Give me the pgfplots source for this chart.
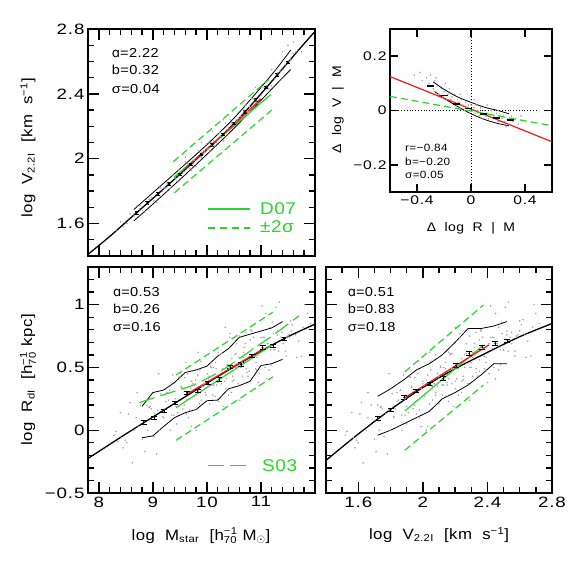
\documentclass[border=0pt]{standalone}
\usepackage{pgfplots}
\pgfplotsset{compat=1.18}
\usepackage{pgfplotstable}
\usepackage{fontspec}
\setmainfont{Liberation Sans}[FakeStretch=1.12, LetterSpace=3]
\newfontfamily\tickfont{Liberation Sans}[FakeStretch=1.25, LetterSpace=6]
\newfontfamily\dejavu{DejaVu Sans}
\definecolor{ggreen}{RGB}{40,215,40}
\definecolor{rred}{RGB}{240,25,25}
\definecolor{dotgray}{RGB}{165,165,165}
\newcommand\tx[1]{\mbox{\fontsize{10}{10}\selectfont #1}}

\pgfplotstableread{
x v y
8.32 1.53 -0.01
8.45 1.58 -0.14
8.58 1.62 0.22
8.66 1.65 0.00
8.77 1.68 0.20
8.85 1.71 -0.17
8.93 1.74 0.18
9.02 1.76 -0.05
9.11 1.79 0.45
9.18 1.82 0.11
9.26 1.84 0.30
9.33 1.87 0.00
9.41 1.89 0.25
9.48 1.92 0.42
9.55 1.94 0.17
9.61 1.96 0.54
9.68 1.98 0.16
9.74 2.00 0.37
9.80 2.02 0.00
9.87 2.05 0.48
9.93 2.06 0.35
9.99 2.08 0.60
10.05 2.10 0.21
10.12 2.13 0.50
10.18 2.15 0.36
10.24 2.17 0.60
10.31 2.19 0.19
10.37 2.21 0.52
10.43 2.23 0.77
10.50 2.25 0.40
10.56 2.27 0.53
10.63 2.30 0.50
10.69 2.32 0.66
10.76 2.34 0.43
10.83 2.36 0.79
10.91 2.39 0.54
11.02 2.42 0.99
11.15 2.47 0.48
11.31 2.52 0.79
11.52 2.59 0.76
8.40 1.56 0.14
8.52 1.60 -0.10
8.71 1.66 0.30
8.81 1.70 -0.07
8.97 1.75 0.17
9.07 1.78 -0.19
9.15 1.81 0.29
9.22 1.83 0.17
9.37 1.88 0.44
9.44 1.90 0.05
9.52 1.93 0.35
9.58 1.95 0.20
9.64 1.97 0.45
9.71 1.99 0.03
9.77 2.01 0.36
9.84 2.04 0.62
9.90 2.06 0.24
9.96 2.07 0.37
10.02 2.09 0.35
10.08 2.11 0.50
10.15 2.14 0.27
10.21 2.16 0.62
10.27 2.18 0.37
10.34 2.20 0.82
10.40 2.22 0.28
10.46 2.24 0.57
10.53 2.26 0.50
10.59 2.28 0.58
10.66 2.31 0.43
10.72 2.33 0.78
10.79 2.35 0.56
10.86 2.37 0.74
10.95 2.40 0.38
11.06 2.44 0.74
11.19 2.48 0.52
11.28 2.51 0.98
11.41 2.55 0.69
11.60 2.62 0.88
11.75 2.67 0.59
11.92 2.72 0.85
8.36 1.55 -0.09
8.62 1.63 -0.26
8.89 1.72 0.20
9.04 1.77 0.13
9.29 1.85 0.24
9.46 1.91 0.14
9.59 1.95 0.42
9.66 1.98 0.10
9.72 2.00 0.39
9.82 2.03 0.03
9.89 2.05 0.55
9.97 2.08 0.30
10.03 2.10 0.41
10.10 2.12 0.36
10.16 2.14 0.54
10.22 2.16 0.23
10.29 2.18 0.49
10.35 2.20 0.33
10.42 2.23 0.74
10.48 2.25 0.43
10.55 2.27 0.69
10.61 2.29 0.24
10.68 2.31 0.62
10.74 2.33 0.46
10.81 2.36 0.80
10.88 2.38 0.59
10.97 2.41 0.45
11.04 2.43 0.74
11.11 2.45 0.41
11.17 2.47 0.82
11.24 2.50 0.64
11.34 2.53 1.02
11.45 2.57 0.63
11.56 2.60 0.79
11.66 2.64 0.58
11.81 2.69 1.00
9.35 1.87 0.12
10.01 2.09 0.45
10.58 2.28 0.37
11.09 2.45 0.93
8.28 1.52 -0.04
8.49 1.59 -0.08
8.55 1.61 0.13
8.74 1.67 0.03
8.95 1.74 0.19
9.13 1.80 0.00
9.24 1.84 0.23
9.39 1.89 0.12
9.50 1.92 0.43
9.63 1.97 0.24
9.79 2.02 0.40
9.86 2.04 0.21
9.94 2.07 0.37
10.07 2.11 0.51
10.13 2.13 0.36
10.26 2.17 0.61
10.33 2.20 0.39
10.39 2.22 0.52
10.45 2.24 0.30
10.52 2.26 0.60
10.65 2.30 0.54
10.71 2.32 0.69
10.78 2.35 0.47
10.85 2.37 0.65
10.93 2.39 0.58
11.00 2.42 0.74
11.08 2.44 0.50
11.13 2.46 0.69
11.21 2.49 0.86
11.26 2.50 0.64
11.37 2.54 0.74
11.48 2.58 0.74
11.58 2.61 0.84
11.70 2.65 0.71
11.86 2.70 0.93
10.20 2.15 0.38
10.60 2.29 0.75
10.90 2.38 0.49
11.30 2.52 0.76
11.50 2.58 0.75
8.42 1.57 -0.06
8.69 1.66 0.10
8.91 1.73 0.00
9.09 1.79 0.16
9.20 1.82 0.10
9.31 1.86 0.32
9.43 1.90 0.19
9.53 1.93 0.34
9.62 1.96 0.13
9.70 1.99 0.33
9.76 2.01 0.27
9.83 2.03 0.44
9.91 2.06 0.35
9.98 2.08 0.28
10.04 2.10 0.43
10.11 2.12 0.28
10.17 2.14 0.49
10.23 2.16 0.41
10.28 2.18 0.61
10.36 2.21 0.41
10.41 2.22 0.49
10.47 2.24 0.39
10.54 2.27 0.61
10.62 2.29 0.50
10.67 2.31 0.58
10.73 2.33 0.49
10.80 2.35 0.72
10.87 2.38 0.59
10.92 2.39 0.48
10.99 2.41 0.69
11.05 2.43 0.65
11.12 2.46 0.69
11.18 2.48 0.64
11.23 2.49 0.77
11.33 2.53 0.63
11.39 2.55 0.78
11.47 2.57 0.59
11.55 2.60 0.87
11.64 2.63 0.76
11.78 2.68 0.82
}\cloudB

\pgfplotstableread{
x y
8.32 1.56
8.45 1.58
8.58 1.66
8.66 1.65
8.77 1.71
8.85 1.67
8.93 1.75
9.02 1.74
9.11 1.83
9.18 1.80
9.26 1.85
9.33 1.82
9.41 1.88
9.48 1.93
9.55 1.91
9.61 1.98
9.68 1.94
9.74 1.99
9.80 1.95
9.87 2.04
9.93 2.03
9.99 2.09
10.05 2.05
10.12 2.11
10.18 2.10
10.24 2.16
10.31 2.11
10.37 2.18
10.43 2.24
10.50 2.20
10.56 2.24
10.63 2.26
10.69 2.30
10.76 2.29
10.83 2.37
10.91 2.35
11.02 2.46
11.15 2.43
11.31 2.53
11.52 2.60
8.40 1.61
8.52 1.60
8.71 1.71
8.81 1.68
8.97 1.76
9.07 1.73
9.15 1.82
9.22 1.82
9.37 1.90
9.44 1.86
9.52 1.92
9.58 1.92
9.64 1.97
9.71 1.93
9.77 1.99
9.84 2.05
9.90 2.01
9.96 2.04
10.02 2.06
10.08 2.10
10.15 2.08
10.21 2.15
10.27 2.13
10.34 2.22
10.40 2.15
10.46 2.22
10.53 2.22
10.59 2.25
10.66 2.25
10.72 2.33
10.79 2.32
10.86 2.37
10.95 2.34
11.06 2.44
11.19 2.45
11.28 2.55
11.41 2.55
11.60 2.65
11.75 2.66
11.68 2.67
9.90 2.10
10.30 2.24
10.70 2.36
10.90 2.44
11.40 2.66
11.50 2.70
11.60 2.72
10.10 2.17
9.60 2.01
11.20 2.55
8.55 1.63
8.90 1.72
9.20 1.82
9.50 1.90
9.75 1.97
9.95 2.05
10.10 2.08
10.25 2.14
10.40 2.19
10.55 2.23
10.70 2.29
10.85 2.35
11.00 2.39
11.10 2.45
11.25 2.49
11.35 2.54
11.45 2.58
11.55 2.61
11.65 2.66
8.75 1.69
}\cloudTL

\pgfplotstableread{
x y
-0.42 0.13
-0.38 0.14
-0.36 0.11
-0.33 0.12
-0.31 0.10
-0.30 0.13
-0.28 0.08
-0.27 0.11
-0.25 0.09
-0.24 0.06
-0.22 0.08
-0.21 0.05
-0.20 0.07
-0.18 0.04
-0.17 0.06
-0.16 0.08
-0.15 0.04
-0.14 0.05
-0.13 0.03
-0.12 0.06
-0.11 0.02
-0.10 0.04
-0.09 0.03
-0.08 0.01
-0.07 0.04
-0.06 0.02
-0.05 0.00
-0.04 0.03
-0.03 0.01
-0.02 0.02
-0.01 -0.01
0.00 0.02
0.01 0.00
0.02 0.01
0.03 -0.01
0.04 0.02
0.05 0.00
0.06 -0.02
0.07 0.01
0.08 -0.01
0.09 -0.03
0.10 0.00
0.11 -0.02
0.12 -0.01
0.13 -0.03
0.14 -0.02
0.15 0.00
0.16 -0.04
0.17 -0.02
0.18 -0.03
0.19 -0.01
0.20 -0.04
0.21 -0.02
0.22 -0.05
0.23 -0.03
0.24 -0.02
0.25 -0.04
0.26 -0.06
0.27 -0.03
0.28 -0.05
0.30 -0.02
0.31 -0.04
0.33 -0.03
0.35 -0.05
0.37 -0.02
-0.19 0.10
-0.26 0.12
0.02 0.04
0.12 0.02
-0.08 0.06
0.20 0.00
}\cloudTR

\pgfplotsset{
  panel/.style={
    scale only axis, anchor=south west,
    axis line style={line width=1.5pt},
    tick align=inside,
    major tick length=0pt, minor tick length=0pt,
    ticklabel style={font=\tickfont\fontsize{15}{18}\selectfont},
  },
  cloud/.style={only marks, mark=*, mark size=0.55pt, dotgray, mark options={draw=none, fill=dotgray}},
  % frame tick marks drawn as one-sided error bars from the frame inward
  tickbar/.style={black, only marks, mark=*, mark size=0pt, forget plot,
    error bars/error mark=none,
    error bars/error bar style={black, line width=1.4pt}},
}

\begin{document}
\begin{tikzpicture}[x=1pt, y=1pt]
\useasboundingbox (0,0) rectangle (581,581);

% ---------------- top left ----------------
\begin{axis}[panel, at={(88pt,325pt)}, width=227pt, height=227pt,
  xmin=7.8, xmax=12, ymin=1.4, ymax=2.8,
  xtick={8,9,10,11}, xticklabels={},
  ytick={1.6,2,2.4,2.8}, yticklabels={1.6,2,2.4,2.8}]
\addplot[cloud] table[x=x,y=y] {\cloudTL};
\addplot[black, line width=1.3pt, smooth] coordinates {(7.8,1.41)(8.2,1.52)(8.6,1.638)(9.0,1.755)(9.4,1.874)(9.8,1.995)(10.2,2.118)(10.6,2.25)(11.0,2.40)(11.4,2.555)(11.8,2.71)(12.0,2.785)};
\addplot[black, line width=0.8pt, smooth] coordinates {(8.65,1.687)(9.0,1.79)(9.5,1.937)(10.0,2.087)(10.5,2.25)(11.0,2.44)(11.3,2.56)(11.55,2.67)};
\addplot[black, line width=0.8pt, smooth] coordinates {(8.65,1.617)(9.0,1.72)(9.5,1.871)(10.0,2.027)(10.5,2.187)(11.0,2.36)(11.3,2.465)(11.55,2.55)};
\addplot[ggreen, line width=1.2pt, dash pattern=on 7pt off 4pt] coordinates {(9.38,1.982)(11.15,2.49)};
\addplot[ggreen, line width=1.2pt, dash pattern=on 7pt off 4pt] coordinates {(9.40,1.79)(11.2,2.30)};
\addplot[ggreen, line width=1.2pt] coordinates {(9.39,1.886)(11.18,2.395)};
\addplot[rred, line width=1.3pt, smooth] coordinates {(9.6,1.94)(10.0,2.06)(10.5,2.21)(11.0,2.37)};
\addplot[black, only marks, mark=*, mark size=1.1pt, error bars/.cd, y dir=both, y fixed=0.008,
  error bar style={line width=0.7pt}, error mark options={rotate=90, mark size=2pt, line width=0.7pt}]
  coordinates {(8.7,1.667)(8.9,1.726)(9.1,1.785)(9.3,1.844)(9.5,1.904)(9.7,1.965)(9.9,2.026)(10.1,2.087)(10.3,2.151)(10.5,2.217)(10.7,2.288)(10.9,2.363)(11.1,2.439)(11.3,2.516)(11.5,2.594)};
% ticks
\addplot[tickbar, error bars/y dir=plus, error bars/y fixed=0.0678] coordinates {(8,1.4)(9,1.4)(10,1.4)(11,1.4)};
\addplot[tickbar, error bars/y dir=minus, error bars/y fixed=0.0678] coordinates {(8,2.8)(9,2.8)(10,2.8)(11,2.8)};
\addplot[tickbar, error bars/y dir=plus, error bars/y fixed=0.037] coordinates {(8.2,1.4)(8.4,1.4)(8.6,1.4)(8.8,1.4)(9.2,1.4)(9.4,1.4)(9.6,1.4)(9.8,1.4)(10.2,1.4)(10.4,1.4)(10.6,1.4)(10.8,1.4)(11.2,1.4)(11.4,1.4)(11.6,1.4)(11.8,1.4)};
\addplot[tickbar, error bars/y dir=minus, error bars/y fixed=0.037] coordinates {(8.2,2.8)(8.4,2.8)(8.6,2.8)(8.8,2.8)(9.2,2.8)(9.4,2.8)(9.6,2.8)(9.8,2.8)(10.2,2.8)(10.4,2.8)(10.6,2.8)(10.8,2.8)(11.2,2.8)(11.4,2.8)(11.6,2.8)(11.8,2.8)};
\addplot[tickbar, error bars/x dir=plus, error bars/x fixed=0.2035] coordinates {(7.8,1.6)(7.8,2.0)(7.8,2.4)};
\addplot[tickbar, error bars/x dir=minus, error bars/x fixed=0.2035] coordinates {(12,1.6)(12,2.0)(12,2.4)};
\addplot[tickbar, error bars/x dir=plus, error bars/x fixed=0.111] coordinates {(7.8,1.5)(7.8,1.7)(7.8,1.8)(7.8,1.9)(7.8,2.1)(7.8,2.2)(7.8,2.3)(7.8,2.5)(7.8,2.6)(7.8,2.7)};
\addplot[tickbar, error bars/x dir=minus, error bars/x fixed=0.111] coordinates {(12,1.5)(12,1.7)(12,1.8)(12,1.9)(12,2.1)(12,2.2)(12,2.3)(12,2.5)(12,2.6)(12,2.7)};
\node[anchor=west, inner sep=0, font=\fontsize{13}{15}\selectfont] at (axis cs:8.24,2.652) {{\dejavu ɑ}=2.22};
\node[anchor=west, inner sep=0, font=\fontsize{13}{15}\selectfont] at (axis cs:8.24,2.547) {b=0.32};
\node[anchor=west, inner sep=0, font=\fontsize{13}{15}\selectfont] at (axis cs:8.24,2.43) {σ=0.04};
\draw[ggreen, line width=1.2pt] (axis cs:10.02,1.69) -- (axis cs:10.80,1.69);
\draw[ggreen, line width=1.2pt, dash pattern=on 7pt off 5pt] (axis cs:10.02,1.573) -- (axis cs:10.80,1.573);
\node[anchor=west, inner sep=0, text=ggreen, font=\fontsize{17}{20}\selectfont] at (axis cs:10.98,1.69) {D07};
\node[anchor=west, inner sep=0, text=ggreen, font=\fontsize{17}{20}\selectfont] at (axis cs:10.98,1.58) {±2σ};
\end{axis}

% ---------------- top right ----------------
\begin{axis}[panel, at={(390pt,389pt)}, width=162pt, height=163pt,
  xmin=-0.6, xmax=0.6, ymin=-0.3, ymax=0.3,
  ticklabel style={font=\tickfont\fontsize{12.5}{15}\selectfont},
  xtick={-0.4,0,0.4}, xticklabels={−0.4,0,0.4},
  ytick={-0.2,0,0.2}, yticklabels={−0.2,0,0.2}]
\addplot[black, dotted, line width=0.8pt] coordinates {(0,-0.3)(0,0.3)};
\addplot[black, dotted, line width=0.8pt] coordinates {(-0.6,0)(0.48,0)};
\addplot[cloud] table[x=x,y=y] {\cloudTR};
\addplot[black, line width=0.8pt, smooth] coordinates {(-0.28,0.105)(-0.2,0.078)(-0.1,0.05)(0,0.03)(0.1,0.012)(0.2,0.0)(0.28,-0.012)};
\addplot[black, line width=0.8pt, smooth] coordinates {(-0.27,0.07)(-0.2,0.045)(-0.1,0.015)(0,-0.012)(0.1,-0.033)(0.2,-0.048)(0.28,-0.056)};
\addplot[only marks, mark=-, mark size=3.5pt, mark options={line width=1.8pt, black}] coordinates {(-0.30,0.09)(-0.20,0.055)(-0.11,0.025)(-0.02,0.007)(0.09,-0.012)(0.19,-0.027)(0.29,-0.036)};
\addplot[rred, line width=1.2pt] coordinates {(-0.6,0.125)(0.6,-0.115)};
\addplot[ggreen, line width=1.2pt, dash pattern=on 7pt off 4pt] coordinates {(-0.6,0.052)(0.6,-0.056)};
% ticks
\addplot[tickbar, error bars/y dir=plus, error bars/y fixed=0.0294] coordinates {(-0.4,-0.3)(0,-0.3)(0.4,-0.3)};
\addplot[tickbar, error bars/y dir=minus, error bars/y fixed=0.0294] coordinates {(-0.4,0.3)(0,0.3)(0.4,0.3)};
\addplot[tickbar, error bars/x dir=plus, error bars/x fixed=0.0593] coordinates {(-0.6,-0.2)(-0.6,0)(-0.6,0.2)};
\addplot[tickbar, error bars/x dir=minus, error bars/x fixed=0.0593] coordinates {(0.6,-0.2)(0.6,0)(0.6,0.2)};
\node[anchor=west, inner sep=0, font=\fontsize{10.5}{12}\selectfont] at (axis cs:-0.489,-0.137) {r=−0.84};
\node[anchor=west, inner sep=0, font=\fontsize{10.5}{12}\selectfont] at (axis cs:-0.489,-0.189) {b=−0.20};
\node[anchor=west, inner sep=0, font=\fontsize{10.5}{12}\selectfont] at (axis cs:-0.489,-0.237) {σ=0.05};
\end{axis}

% ---------------- bottom left ----------------
\begin{axis}[panel, at={(88pt,88pt)}, width=227pt, height=226pt,
  xmin=7.8, xmax=12, ymin=-0.5, ymax=1.3,
  xtick={8,9,10,11}, xticklabels={8,9,10,11},
  ytick={-0.5,0,0.5,1}, yticklabels={−0.5,0,0.5,1}]
\addplot[cloud] table[x=x,y=y] {\cloudB};
\addplot[black, line width=1.3pt, smooth] coordinates {(7.8,-0.225)(8.5,-0.03)(9,0.105)(9.5,0.24)(10,0.375)(10.5,0.505)(11,0.63)(11.5,0.745)(12,0.845)};
\addplot[black, line width=0.8pt] coordinates {(8.8,0.19)(9.0,0.30)(9.2,0.32)(9.4,0.38)(9.6,0.46)(9.8,0.48)(10.0,0.51)(10.2,0.59)(10.4,0.65)(10.6,0.74)(10.8,0.765)(11.0,0.79)(11.2,0.815)(11.4,0.865)};
\addplot[black, line width=0.8pt] coordinates {(8.8,-0.06)(9.0,-0.045)(9.2,0.03)(9.4,0.10)(9.6,0.14)(9.8,0.165)(10.0,0.235)(10.2,0.24)(10.4,0.33)(10.6,0.355)(10.8,0.39)(11.0,0.515)(11.2,0.53)(11.4,0.565)};
\addplot[ggreen, line width=1.2pt, dash pattern=on 7pt off 4pt] coordinates {(9.43,0.44)(11.22,0.94)};
\addplot[ggreen, line width=1.2pt, dash pattern=on 7pt off 4pt] coordinates {(9.43,-0.08)(11.22,0.425)};
\addplot[ggreen, line width=1.2pt] coordinates {(9.43,0.18)(11.22,0.683)};
\addplot[ggreen, line width=1.2pt, dash pattern=on 16pt off 6pt, smooth] coordinates {(8.75,0.22)(9.25,0.29)(9.75,0.36)(10.25,0.47)(10.75,0.615)(11.25,0.765)(11.7,0.91)};
\addplot[rred, line width=1.3pt] coordinates {(9.6,0.28)(11.05,0.65)};
\addplot[black, only marks, mark=*, mark size=0.6pt, error bars/.cd, y dir=both, y explicit,
  error bar style={line width=0.8pt}, error mark options={rotate=90, mark size=3pt, line width=0.8pt}]
  table[x=x, y=y, y error=e] {
x y e
8.83 0.061 0.015
9.03 0.100 0.012
9.21 0.154 0.012
9.41 0.220 0.012
9.63 0.298 0.015
9.83 0.313 0.015
10.02 0.377 0.012
10.23 0.407 0.015
10.43 0.505 0.015
10.63 0.526 0.015
10.83 0.593 0.012
11.03 0.660 0.015
11.23 0.673 0.012
11.43 0.731 0.012
};
% ticks
\addplot[tickbar, error bars/y dir=plus, error bars/y fixed=0.0876] coordinates {(8,-0.5)(9,-0.5)(10,-0.5)(11,-0.5)};
\addplot[tickbar, error bars/y dir=minus, error bars/y fixed=0.0876] coordinates {(8,1.3)(9,1.3)(10,1.3)(11,1.3)};
\addplot[tickbar, error bars/y dir=plus, error bars/y fixed=0.0478] coordinates {(8.2,-0.5)(8.4,-0.5)(8.6,-0.5)(8.8,-0.5)(9.2,-0.5)(9.4,-0.5)(9.6,-0.5)(9.8,-0.5)(10.2,-0.5)(10.4,-0.5)(10.6,-0.5)(10.8,-0.5)(11.2,-0.5)(11.4,-0.5)(11.6,-0.5)(11.8,-0.5)};
\addplot[tickbar, error bars/y dir=minus, error bars/y fixed=0.0478] coordinates {(8.2,1.3)(8.4,1.3)(8.6,1.3)(8.8,1.3)(9.2,1.3)(9.4,1.3)(9.6,1.3)(9.8,1.3)(10.2,1.3)(10.4,1.3)(10.6,1.3)(10.8,1.3)(11.2,1.3)(11.4,1.3)(11.6,1.3)(11.8,1.3)};
\addplot[tickbar, error bars/x dir=plus, error bars/x fixed=0.2035] coordinates {(7.8,0)(7.8,0.5)(7.8,1)};
\addplot[tickbar, error bars/x dir=minus, error bars/x fixed=0.2035] coordinates {(12,0)(12,0.5)(12,1)};
\addplot[tickbar, error bars/x dir=plus, error bars/x fixed=0.111] coordinates {(7.8,-0.4)(7.8,-0.3)(7.8,-0.2)(7.8,-0.1)(7.8,0.1)(7.8,0.2)(7.8,0.3)(7.8,0.4)(7.8,0.6)(7.8,0.7)(7.8,0.8)(7.8,0.9)(7.8,1.1)(7.8,1.2)};
\addplot[tickbar, error bars/x dir=minus, error bars/x fixed=0.111] coordinates {(12,-0.4)(12,-0.3)(12,-0.2)(12,-0.1)(12,0.1)(12,0.2)(12,0.3)(12,0.4)(12,0.6)(12,0.7)(12,0.8)(12,0.9)(12,1.1)(12,1.2)};
\node[anchor=west, inner sep=0, font=\fontsize{13}{15}\selectfont] at (axis cs:8.26,1.10) {{\dejavu ɑ}=0.53};
\node[anchor=west, inner sep=0, font=\fontsize{13}{15}\selectfont] at (axis cs:8.26,0.965) {b=0.26};
\node[anchor=west, inner sep=0, font=\fontsize{13}{15}\selectfont] at (axis cs:8.26,0.82) {σ=0.16};
\draw[ggreen, line width=1.2pt, dash pattern=on 16pt off 6pt] (axis cs:10.02,-0.28) -- (axis cs:10.80,-0.28);
\node[anchor=west, inner sep=0, text=ggreen, font=\fontsize{17}{20}\selectfont] at (axis cs:11.02,-0.28) {S03};
\end{axis}

% ---------------- bottom right ----------------
\begin{axis}[panel, at={(326pt,88pt)}, width=226pt, height=226pt,
  xmin=1.4, xmax=2.8, ymin=-0.5, ymax=1.3,
  xtick={1.6,2,2.4,2.8}, xticklabels={1.6,2,2.4,2.8},
  ytick={-0.5,0,0.5,1}, yticklabels={}]
\addplot[cloud] table[x=v,y=y] {\cloudB};
\addplot[black, line width=1.3pt, smooth] coordinates {(1.4,-0.24)(1.6,-0.03)(1.8,0.165)(2.0,0.34)(2.2,0.49)(2.4,0.62)(2.6,0.745)(2.8,0.85)};
\addplot[black, line width=0.8pt] coordinates {(1.72,0.27)(1.80,0.33)(1.88,0.40)(1.96,0.48)(2.04,0.53)(2.12,0.60)(2.20,0.70)(2.28,0.81)(2.36,0.81)(2.44,0.83)(2.52,0.865)};
\addplot[black, line width=0.8pt] coordinates {(1.72,-0.04)(1.80,0.0)(1.88,0.05)(1.96,0.10)(2.04,0.15)(2.12,0.25)(2.20,0.30)(2.28,0.36)(2.36,0.44)(2.44,0.53)(2.52,0.53)};
\addplot[ggreen, line width=1.2pt, dash pattern=on 7pt off 4pt] coordinates {(1.888,0.465)(2.375,0.997)};
\addplot[ggreen, line width=1.2pt, dash pattern=on 7pt off 4pt] coordinates {(1.888,-0.16)(2.375,0.359)};
\addplot[ggreen, line width=1.2pt] coordinates {(1.888,0.153)(2.375,0.678)};
\addplot[rred, line width=1.3pt] coordinates {(1.89,0.26)(2.41,0.68)};
\addplot[black, only marks, mark=*, mark size=0.6pt, error bars/.cd, y dir=both, y fixed=0.014,
  error bar style={line width=0.8pt}, error mark options={rotate=90, mark size=3pt, line width=0.8pt}]
  coordinates {(1.72,0.093)(1.80,0.16)(1.884,0.26)(1.96,0.313)(2.044,0.367)(2.126,0.412)(2.205,0.518)(2.288,0.611)(2.369,0.66)(2.448,0.691)(2.524,0.712)};
% ticks
\addplot[tickbar, error bars/y dir=plus, error bars/y fixed=0.0876] coordinates {(1.6,-0.5)(2.0,-0.5)(2.4,-0.5)};
\addplot[tickbar, error bars/y dir=minus, error bars/y fixed=0.0876] coordinates {(1.6,1.3)(2.0,1.3)(2.4,1.3)};
\addplot[tickbar, error bars/y dir=plus, error bars/y fixed=0.0478] coordinates {(1.5,-0.5)(1.7,-0.5)(1.8,-0.5)(1.9,-0.5)(2.1,-0.5)(2.2,-0.5)(2.3,-0.5)(2.5,-0.5)(2.6,-0.5)(2.7,-0.5)};
\addplot[tickbar, error bars/y dir=minus, error bars/y fixed=0.0478] coordinates {(1.5,1.3)(1.7,1.3)(1.8,1.3)(1.9,1.3)(2.1,1.3)(2.2,1.3)(2.3,1.3)(2.5,1.3)(2.6,1.3)(2.7,1.3)};
\addplot[tickbar, error bars/x dir=plus, error bars/x fixed=0.0681] coordinates {(1.4,0)(1.4,0.5)(1.4,1)};
\addplot[tickbar, error bars/x dir=minus, error bars/x fixed=0.0681] coordinates {(2.8,0)(2.8,0.5)(2.8,1)};
\addplot[tickbar, error bars/x dir=plus, error bars/x fixed=0.0372] coordinates {(1.4,-0.4)(1.4,-0.3)(1.4,-0.2)(1.4,-0.1)(1.4,0.1)(1.4,0.2)(1.4,0.3)(1.4,0.4)(1.4,0.6)(1.4,0.7)(1.4,0.8)(1.4,0.9)(1.4,1.1)(1.4,1.2)};
\addplot[tickbar, error bars/x dir=minus, error bars/x fixed=0.0372] coordinates {(2.8,-0.4)(2.8,-0.3)(2.8,-0.2)(2.8,-0.1)(2.8,0.1)(2.8,0.2)(2.8,0.3)(2.8,0.4)(2.8,0.6)(2.8,0.7)(2.8,0.8)(2.8,0.9)(2.8,1.1)(2.8,1.2)};
\node[anchor=west, inner sep=0, font=\fontsize{13}{15}\selectfont] at (axis cs:1.534,1.10) {{\dejavu ɑ}=0.51};
\node[anchor=west, inner sep=0, font=\fontsize{13}{15}\selectfont] at (axis cs:1.534,0.965) {b=0.83};
\node[anchor=west, inner sep=0, font=\fontsize{13}{15}\selectfont] at (axis cs:1.534,0.82) {σ=0.18};
\end{axis}

% ---------------- axis labels ----------------
\node[rotate=90, font=\fontsize{15}{18}\selectfont] at (28,433) {log\ \ V$_{\tx{2.2I}}$\ \ [km\ \ s$^{\tx{−1}}$]};
\node[rotate=90, font=\fontsize{15}{18}\selectfont] at (28,201) {log\ \ R$_{\tx{dI}}$\ \ [h$^{\tx{−1}}_{\tx{70}}$\ kpc]};
\node[font=\fontsize{15}{18}\selectfont] at (201,45) {log\ \ M$_{\tx{star}}$\ \ [h$^{\tx{−1}}_{\tx{70}}$\ M$_{\odot}$]};
\node[font=\fontsize{15}{18}\selectfont] at (439,46) {log\ \ V$_{\tx{2.2I}}$\ \ [km\ \ s$^{\tx{−1}}$]};
\node[rotate=90, font=\fontsize{12.5}{15}\selectfont] at (338,471) {Δ\ \ log\ \ V\ \ |\ \ M};
\node[font=\fontsize{12.5}{15}\selectfont] at (471,353) {Δ\ \ log\ \ R\ \ |\ \ M};
\end{tikzpicture}
\end{document}
